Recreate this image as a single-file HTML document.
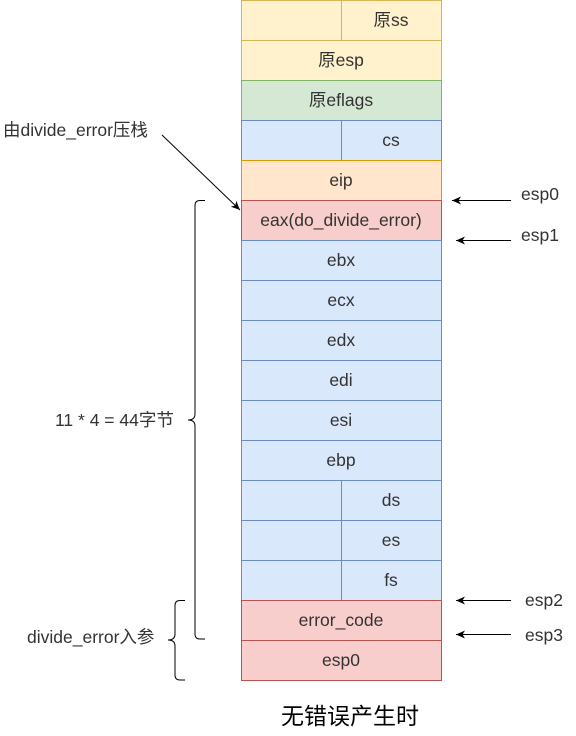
<!DOCTYPE html>
<html><head><meta charset="utf-8"><style>
body{margin:0;background:#fff;}
svg text{font-family:"Liberation Sans","Noto Sans CJK SC",sans-serif;font-size:17.5px;fill:#333;}
</style></head><body>
<svg width="576" height="731" viewBox="0 0 576 731" xmlns="http://www.w3.org/2000/svg">
<defs><marker id="a" markerWidth="10" markerHeight="10" refX="9" refY="5" orient="auto" markerUnits="userSpaceOnUse"><path d="M0,1 L9,5 L0,9 L2.5,5 z" fill="#000"/></marker></defs>
<g stroke-width="1">
<rect x="241.5" y="0.5" width="200" height="40" fill="#fff2cc" stroke="#d6b656"/><line x1="341.5" y1="0" x2="341.5" y2="40" stroke="#d6b656"/>
<rect x="241.5" y="40.5" width="200" height="40" fill="#fff2cc" stroke="#d6b656"/>
<rect x="241.5" y="80.5" width="200" height="40" fill="#d5e8d4" stroke="#82b366"/>
<rect x="241.5" y="120.5" width="200" height="40" fill="#dae8fc" stroke="#6c8ebf"/><line x1="341.5" y1="120" x2="341.5" y2="160" stroke="#6c8ebf"/>
<rect x="241.5" y="160.5" width="200" height="40" fill="#ffe6cc" stroke="#d79b00"/>
<rect x="241.5" y="200.5" width="200" height="40" fill="#f8cecc" stroke="#b85450"/>
<rect x="241.5" y="240.5" width="200" height="40" fill="#dae8fc" stroke="#6c8ebf"/>
<rect x="241.5" y="280.5" width="200" height="40" fill="#dae8fc" stroke="#6c8ebf"/>
<rect x="241.5" y="320.5" width="200" height="40" fill="#dae8fc" stroke="#6c8ebf"/>
<rect x="241.5" y="360.5" width="200" height="40" fill="#dae8fc" stroke="#6c8ebf"/>
<rect x="241.5" y="400.5" width="200" height="40" fill="#dae8fc" stroke="#6c8ebf"/>
<rect x="241.5" y="440.5" width="200" height="40" fill="#dae8fc" stroke="#6c8ebf"/>
<rect x="241.5" y="480.5" width="200" height="40" fill="#dae8fc" stroke="#6c8ebf"/>
<rect x="241.5" y="520.5" width="200" height="40" fill="#dae8fc" stroke="#6c8ebf"/>
<rect x="241.5" y="560.5" width="200" height="40" fill="#dae8fc" stroke="#6c8ebf"/>
<line x1="341.5" y1="480" x2="341.5" y2="600" stroke="#6c8ebf"/>
<rect x="241.5" y="600.5" width="200" height="40" fill="#f8cecc" stroke="#b85450"/>
<rect x="241.5" y="640.5" width="200" height="40" fill="#f8cecc" stroke="#b85450"/>
</g>
<g text-anchor="middle">
<text x="391" y="26">原ss</text>
<text x="341" y="66">原esp</text>
<text x="341" y="106">原eflags</text>
<text x="391" y="146">cs</text>
<text x="341" y="186">eip</text>
<text x="341" y="226">eax(do_divide_error)</text>
<text x="341" y="266">ebx</text>
<text x="341" y="306">ecx</text>
<text x="341" y="346">edx</text>
<text x="341" y="386">edi</text>
<text x="341" y="426">esi</text>
<text x="341" y="466">ebp</text>
<text x="391" y="506">ds</text>
<text x="391" y="546">es</text>
<text x="391" y="586">fs</text>
<text x="341" y="626">error_code</text>
<text x="341" y="666">esp0</text>
<text x="350" y="724" style="font-size:23px;fill:#000">无错误产生时</text>
</g>
<g fill="none" stroke="#000" stroke-width="1">
<line x1="511" y1="200.5" x2="452" y2="200.5" marker-end="url(#a)"/>
<line x1="511" y1="240.5" x2="456" y2="240.5" marker-end="url(#a)"/>
<line x1="511" y1="600.5" x2="456" y2="600.5" marker-end="url(#a)"/>
<line x1="511" y1="634.5" x2="456" y2="634.5" marker-end="url(#a)"/>
<line x1="162" y1="135" x2="240" y2="210" marker-end="url(#a)"/>
<path d="M205,200.5 h-5 q-5,0 -5,5 V414 q0,6 -7,6 q7,0 7,6 V634 q0,5 5,5 h5"/>
<path d="M185,600.5 h-5 q-5,0 -5,5 V634 q0,6 -7,6 q7,0 7,6 V675 q0,5 5,5 h5"/>
</g>
<text x="521" y="200">esp0</text>
<text x="521" y="241">esp1</text>
<text x="525" y="606">esp2</text>
<text x="525" y="641">esp3</text>
<text x="3" y="136">由divide_error压栈</text>
<text x="55" y="426">11 * 4 = 44字节</text>
<text x="27" y="643">divide_error入参</text>
</svg>
</body></html>
